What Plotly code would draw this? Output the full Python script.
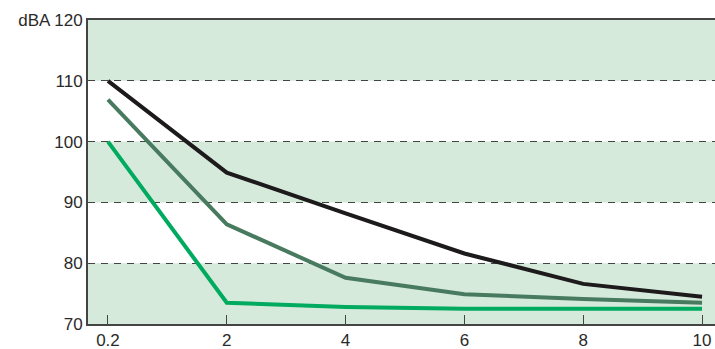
import plotly.graph_objects as go

categories = ["0.2", "2", "4", "6", "8", "10"]
series_black = [110.0, 94.9, 88.2, 81.6, 76.6, 74.5]
series_dark = [106.9, 86.4, 77.6, 74.9, 74.1, 73.5]
series_bright = [100.0, 73.5, 72.8, 72.5, 72.5, 72.5]
y_tickvals = [70, 80, 90, 100, 110, 120]
y_ticktext = ["70", "80", "90", "100", "110", "dBA 120"]
bands = [(70, 80), (90, 100), (110, 120)]

fig = go.Figure()

for vals, color in [(series_bright, "#00aa5e"), (series_dark, "#477a5e"), (series_black, "#1c1a1a")]:
    fig.add_trace(go.Scatter(x=categories, y=vals, mode="lines",
                             line=dict(color=color, width=4), showlegend=False,
                             hoverinfo="skip"))

for lo, hi in bands:
    fig.add_shape(type="rect", xref="paper", yref="y", x0=0, x1=1, y0=lo, y1=hi,
                  fillcolor="#d6eadc", line=dict(width=0), layer="below")

font = dict(family="Liberation Sans, Arial, sans-serif", size=17, color="#2a2a2a")

fig.update_layout(
    width=715, height=349,
    margin=dict(l=88, r=0, t=20, b=25, autoexpand=False),
    paper_bgcolor="white", plot_bgcolor="white",
    font=font,
    xaxis=dict(type="category", range=[-0.168, 5.109], showgrid=False,
               showline=True, linecolor="#444444", linewidth=2, mirror=True,
               ticks="inside", ticklen=9, tickwidth=1.2, tickcolor="#444444",
               tickfont=font, zeroline=False, fixedrange=True, automargin=False),
    yaxis=dict(range=[70, 120], tickvals=y_tickvals, ticktext=y_ticktext,
               showgrid=True, gridcolor="#444444", gridwidth=1.2, griddash="7px,6px",
               showline=True, linecolor="#444444", linewidth=2,
               ticks="", tickfont=font, zeroline=False, fixedrange=True, automargin=False),
)

fig.write_html("out.html", config={"displayModeBar": False},
               post_script="document.body.style.margin='0';document.body.style.overflow='hidden';")
